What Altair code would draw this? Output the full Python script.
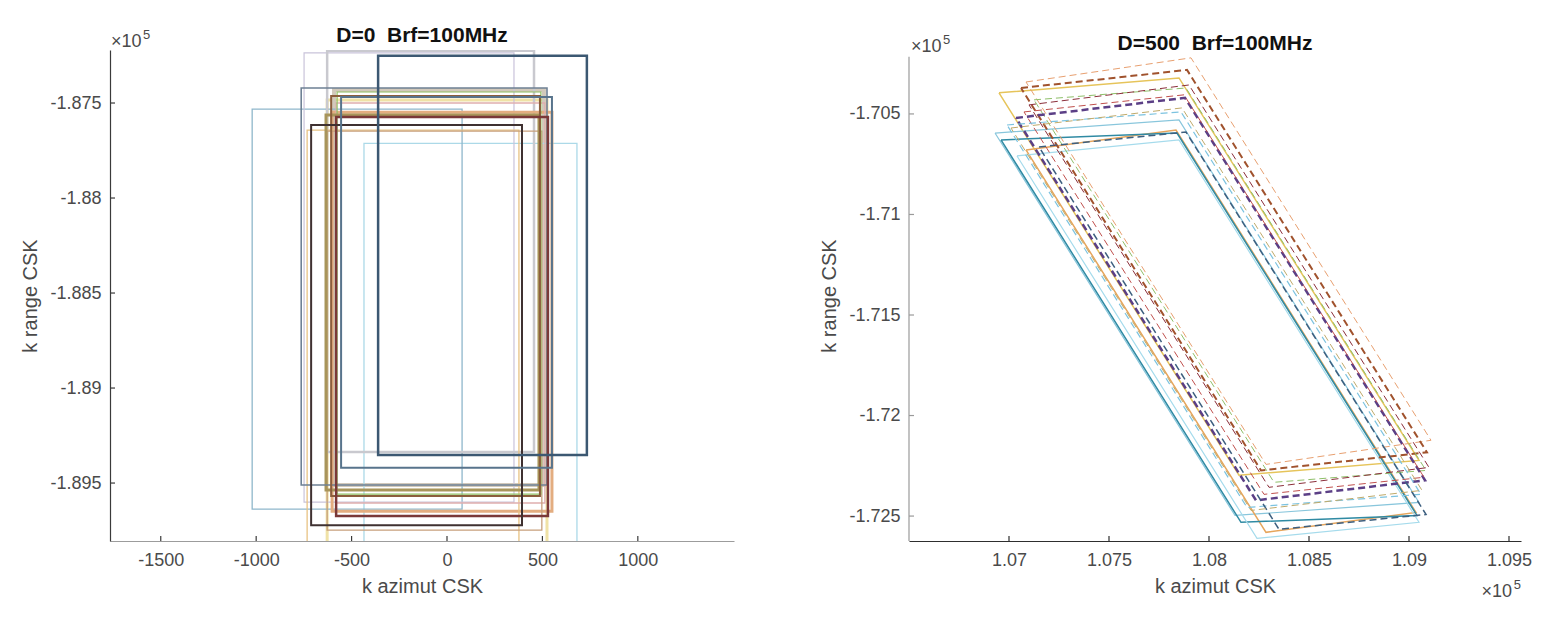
import altair as alt
import pandas as pd

FONT = "Liberation Sans"
TXT = "#4a4a4a"

# ---------------- Left panel: D=0 (rectangles) ----------------
L_X1 = [-628, -592, -435, -1021, -749, -628, -602, -733, -581, -628, -576, -634, -764, -607, -581, -712, -555, -361]
L_X2 = [524, 508, 681, 79, 351, 456, 550, 377, 513, 497, 492, 482, 524, 487, 529, 393, 550, 733]
L_YT = [-187484, -187431, -187712, -187532, -187236, -187225, -187548, -187643, -187500, -187648, -187442, -187563, -187421, -187463, -187574, -187616, -187468, -187251]
L_YB = [-189817, -189510, -189838, -189637, -189600, -189336, -189648, -189817, -189605, -189748, -189558, -189537, -189510, -189568, -189674, -189722, -189420, -189352]
L_COL = ["#f0e2a6", "#d2c9bb", "#acd9e8", "#8fb7cb", "#c9c3da", "#c9c9cf", "#e3ad80", "#e8c283",
         "#dfaeae", "#c7a07c", "#8fbf62", "#a8955a", "#6e8094", "#8b5e3c", "#7a3838", "#3f3131",
         "#58748c", "#3c5872"]
L_W = [3, 4, 1.3, 1.3, 1.2, 2.5, 3, 1.3, 1.3, 1.3, 1.2, 3, 1.6, 2, 2.5, 2, 2, 2.5]

LX_TICKS = [-1500, -1000, -500, 0, 500, 1000]
LY_TICKS = [-189500, -189000, -188500, -188000, -187500]
LX_DOMAIN = [-1766, 1504]
LY_DOMAIN = [-189805, -187221]

# ---------------- Right panel: D=500 (parallelograms) ----------------
P_TLX = [107085, 107060, 106950, 107125, 107035, 107075, 106990, 106930, 107085, 107150, 106960, 107040, 107100, 107010]
P_TLY = [-170341, -170371, -170395, -170430, -170520, -170490, -170555, -170595, -170679, -170664, -170629, -170709, -170455, -170570]
P_TRX = [107910, 107890, 107850, 107885, 107880, 107875, 107860, 107850, 107835, 107885, 107840, 107850, 107900, 107865]
P_TRY = [-170221, -170281, -170321, -170371, -170420, -170405, -170490, -170530, -170580, -170590, -170595, -170629, -170356, -170470]
P_BRX = [109110, 109090, 109050, 109085, 109080, 109075, 109060, 109050, 109035, 109085, 109040, 109050, 109100, 109065]
P_BRY = [-172123, -172183, -172223, -172273, -172322, -172307, -172392, -172432, -172482, -172492, -172497, -172531, -172258, -172372]
P_BLX = [108285, 108260, 108150, 108325, 108235, 108275, 108190, 108130, 108285, 108350, 108160, 108240, 108300, 108210]
P_BLY = [-172243, -172273, -172297, -172332, -172422, -172392, -172457, -172497, -172581, -172566, -172531, -172611, -172357, -172472]
P_COL = ["#e8a070", "#a0522d", "#e6c45a", "#8fbf6a", "#5b3f86", "#c0504d", "#7cc3e0",
         "#88c6dc", "#e6a55c", "#3d5f7f", "#2f8aa3", "#a5dbec", "#8b2e3a", "#c0aa6a"]
P_DASH = [True, True, False, True, True, True, True, False, False, True, False, False, True, True]
P_W = [1, 2, 1.5, 1, 2.5, 1, 1.2, 1.2, 1.5, 1.5, 1.5, 1.2, 1, 1]

RX_TICKS = [107000, 107500, 108000, 108500, 109000, 109500]
RY_TICKS = [-172500, -172000, -171500, -171000, -170500]
RX_DOMAIN = [106500, 109560]
RY_DOMAIN = [-172624, -170182]
RY_AXIS_TOP = -170216

LEFT_TITLE = "D=0\u00a0 Brf=100MHz"
RIGHT_TITLE = "D=500\u00a0 Brf=100MHz"
X_TITLE = "k azimut CSK"
Y_TITLE = "k range CSK"

H = 491
WL = 624
WR = 612

# ---------------- tables ----------------
left_df = pd.DataFrame({"x1": L_X1, "x2": L_X2, "y1": L_YT, "y2": L_YB,
                        "c": L_COL, "w": L_W, "id": list(range(len(L_X1)))})

rows = []
for i in range(len(P_TLX)):
    corners = [(P_TLX[i], P_TLY[i]), (P_TRX[i], P_TRY[i]), (P_BRX[i], P_BRY[i]),
               (P_BLX[i], P_BLY[i]), (P_TLX[i], P_TLY[i])]
    for k, (cx, cy) in enumerate(corners):
        rows.append({"id": i, "k": k, "x": cx, "y": cy, "c": P_COL[i],
                     "w": P_W[i], "dash": P_DASH[i]})
right_df = pd.DataFrame(rows)
dummy = pd.DataFrame({"a": [0]})

XLAB_INT = "(datum.value < 0 ? '-' : '') + format(abs(datum.value), 'd')"
LAB_E5 = "(datum.value < 0 ? '-' : '') + format(abs(datum.value) / 100000, '.4~f')"


def x_axis(values, expr, domain_color):
    return alt.Axis(values=values, labelExpr=expr, grid=False, ticks=False, tickSize=0,
                    labelFontSize=18, labelFont=FONT, labelColor=TXT, labelPadding=10,
                    domainColor=domain_color, domainWidth=1.2,
                    title=X_TITLE, titleFontSize=20, titleFont=FONT, titleFontWeight="normal",
                    titleColor=TXT, titleY=45, titleBaseline="middle")


def y_axis(values, domain, domain_color):
    return alt.Axis(values=values, labelExpr=LAB_E5, grid=False, ticks=False, tickSize=0,
                    labelFontSize=18, labelFont=FONT, labelColor=TXT, labelPadding=9,
                    domain=domain, domainColor=domain_color, domainWidth=1.2,
                    title=Y_TITLE, titleFontSize=20, titleFont=FONT, titleFontWeight="normal",
                    titleColor=TXT, titleX=-80, titleY=H / 2, titleAngle=-90,
                    titleAlign="center", titleBaseline="middle")


def text_at(s, x0, y0, size, align="left", weight="normal", color=TXT, baseline="middle"):
    return alt.Chart(dummy).mark_text(text=s, align=align, baseline=baseline, fontSize=size,
                                      font=FONT, fontWeight=weight, color=color).encode(
        x=alt.value(x0), y=alt.value(y0))


def exp_labels(x0, y0):
    return [text_at("\u00d710", x0, y0, 18), text_at("5", x0 + 32, y0 - 7, 13)]


# ---------------- left chart ----------------
lxs = alt.Scale(domain=LX_DOMAIN, nice=False, zero=False)
lys = alt.Scale(domain=LY_DOMAIN, nice=False, zero=False)

l_rects = alt.Chart(left_df).mark_rect(filled=False, clip=True).encode(
    x=alt.X("x1:Q", scale=lxs, axis=x_axis(LX_TICKS, XLAB_INT, "#9c9c9c")),
    x2="x2:Q",
    y=alt.Y("y1:Q", scale=lys, axis=y_axis(LY_TICKS, True, "#3a3a3a")),
    y2="y2:Q",
    stroke=alt.Stroke("c:N", scale=None),
    strokeWidth=alt.StrokeWidth("w:Q", scale=None),
    order="id:Q",
)
l_xt = alt.Chart(pd.DataFrame({"t": LX_TICKS})).mark_rule(color="#3a3a3a", strokeWidth=1.2).encode(
    x=alt.X("t:Q", scale=lxs), y=alt.value(H), y2=alt.value(H - 5))
l_yt = alt.Chart(pd.DataFrame({"t": LY_TICKS})).mark_rule(color="#3a3a3a", strokeWidth=1.2).encode(
    y=alt.Y("t:Q", scale=lys), x=alt.value(0), x2=alt.value(5))

left = alt.layer(
    l_rects, l_xt, l_yt, *exp_labels(1, -8),
    text_at(LEFT_TITLE, WL / 2, -8, 21, align="center", weight="bold", color="#111111",
            baseline="alphabetic"),
).properties(width=WL, height=H)

# ---------------- right chart ----------------
rxs = alt.Scale(domain=RX_DOMAIN, nice=False, zero=False)
rys = alt.Scale(domain=RY_DOMAIN, nice=False, zero=False)

base_r = alt.Chart(right_df)
r_solid = base_r.transform_filter("!datum.dash").mark_line(clip=True).encode(
    x=alt.X("x:Q", scale=rxs, axis=x_axis(RX_TICKS, LAB_E5, "#2e2e2e")),
    y=alt.Y("y:Q", scale=rys, axis=y_axis(RY_TICKS, False, "#9a9a9a")),
    detail="id:N", order="k:Q",
    color=alt.Color("c:N", scale=None),
    strokeWidth=alt.StrokeWidth("w:Q", scale=None),
)
r_dash = base_r.transform_filter("datum.dash").mark_line(clip=True, strokeDash=[7, 4]).encode(
    x=alt.X("x:Q", scale=rxs),
    y=alt.Y("y:Q", scale=rys),
    detail="id:N", order="k:Q",
    color=alt.Color("c:N", scale=None),
    strokeWidth=alt.StrokeWidth("w:Q", scale=None),
)
r_yline = alt.Chart(dummy).mark_rule(color="#9a9a9a", strokeWidth=1.2).encode(
    x=alt.value(0), y=alt.Y(datum=RY_AXIS_TOP, type="quantitative", scale=rys), y2=alt.value(H))
r_xt = alt.Chart(pd.DataFrame({"t": RX_TICKS})).mark_rule(color="#2e2e2e", strokeWidth=1.2).encode(
    x=alt.X("t:Q", scale=rxs), y=alt.value(H), y2=alt.value(H - 5))
r_yt = alt.Chart(pd.DataFrame({"t": RY_TICKS})).mark_rule(color="#9a9a9a", strokeWidth=1.2).encode(
    y=alt.Y("t:Q", scale=rys), x=alt.value(0), x2=alt.value(5))

right = alt.layer(
    r_solid, r_dash, r_yline, r_xt, r_yt, *exp_labels(2, -3),
    text_at("\u00d710", WR - 9, H + 51, 18, align="right"),
    text_at("5", WR, H + 44, 13, align="right"),
    text_at(RIGHT_TITLE, WR / 2, 0, 21, align="center", weight="bold", color="#111111",
            baseline="alphabetic"),
).properties(width=WR, height=H)

chart = alt.hconcat(left, right, spacing=175, bounds="flush").properties(
    padding={"left": 12, "top": 17, "right": 5, "bottom": 5},
    background="white",
).configure_view(strokeWidth=0)

chart.save("out.html", embed_options={"renderer": "svg", "actions": False})
